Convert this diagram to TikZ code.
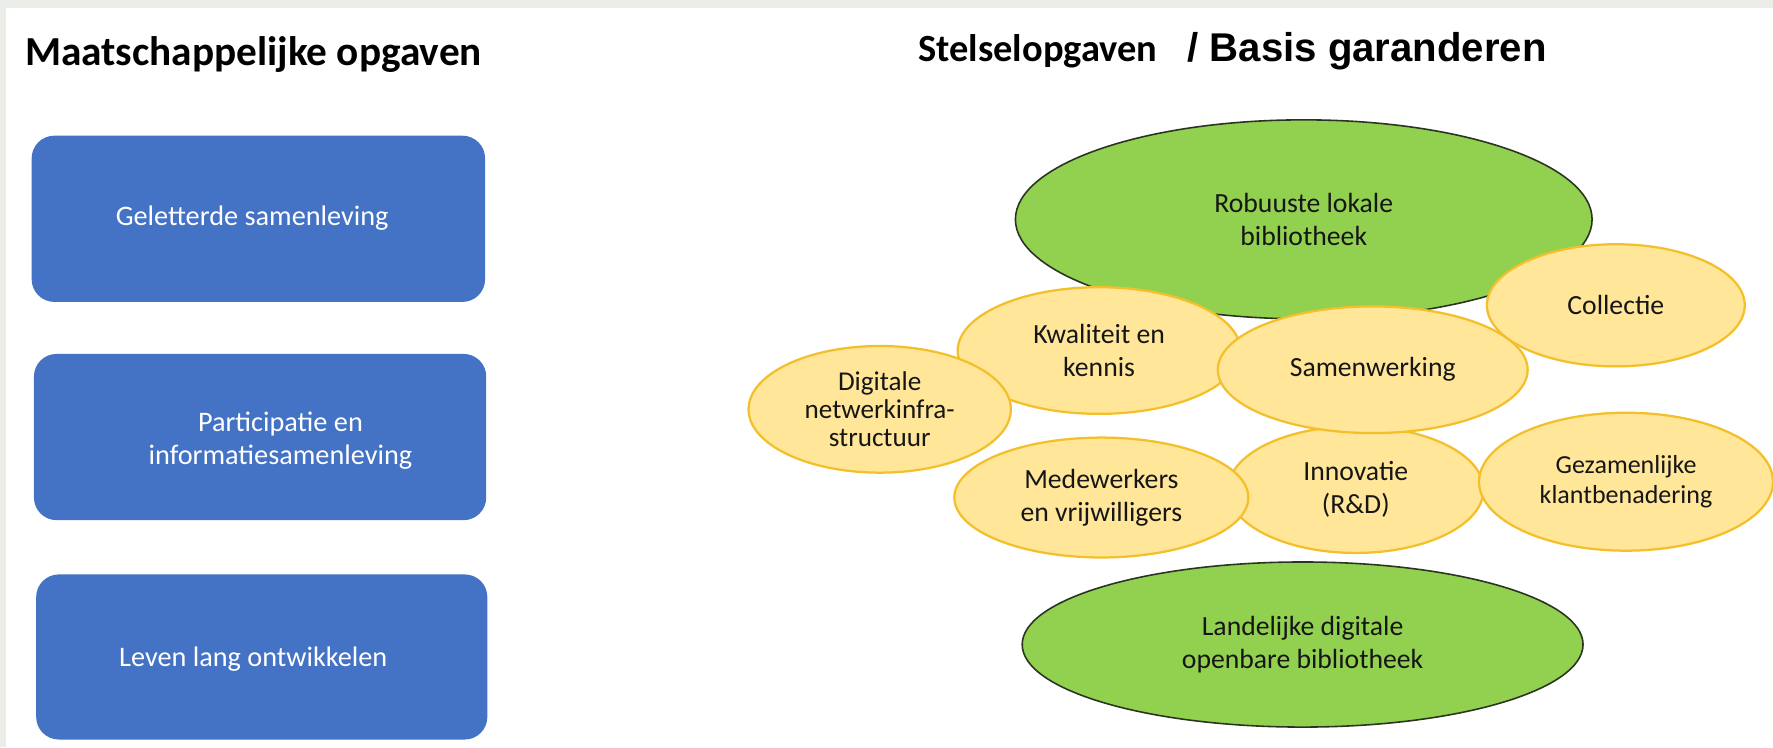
\documentclass[tikz,border=0pt]{standalone}
\usepackage{fontspec}
\setmainfont{Carlito}
\newfontfamily\arialfont{Liberation Sans}
\usetikzlibrary{shapes.geometric}
\definecolor{framegray}{HTML}{EBEDE8}
\definecolor{boxblue}{HTML}{4472C4}
\definecolor{ellgreen}{HTML}{92D050}
\definecolor{ellgreenline}{HTML}{2A3520}
\definecolor{ellyellow}{HTML}{FFE699}
\definecolor{ellyellowline}{HTML}{F3C02C}
\definecolor{txtdark}{HTML}{161616}
\tikzset{
  bluebox/.style={fill=boxblue, draw=none, rounded corners=20pt},
  boxtxt/.style={text=white, align=center, font=\fontsize{25}{29}\selectfont, inner sep=0pt},
  greenell/.style={ellipse, fill=ellgreen, draw=ellgreenline, line width=1.4pt, inner sep=0pt},
  yellowell/.style={ellipse, fill=ellyellow, draw=ellyellowline, line width=2pt, inner sep=0pt},
  elltxt/.style={text=txtdark, align=center, font=\fontsize{24.5}{29}\selectfont, inner sep=0pt},
  titletxt/.style={anchor=base west, inner sep=0pt, font=\bfseries\fontsize{36.5}{40}\selectfont}
}
\begin{document}
\begin{tikzpicture}[x=1pt, y=-1pt]
\useasboundingbox (0,0) rectangle (1568,661);
\fill[white] (0,0) rectangle (1568,661);
\fill[framegray] (0,0) rectangle (1568,7.5);
\fill[framegray] (0,0) rectangle (5,661);

% left column
\node[titletxt] (lt) at (22,58) {Maatschappelijke opgaven};
\draw[bluebox] (28,120) rectangle (429,267);
\coordinate (b1) at (223,193);
\node[boxtxt] (t1) at (b1) {Geletterde samenleving};
\draw[bluebox] (30,313) rectangle (430,460);
\node[boxtxt] (t2) at (248,390) {Participatie en\\informatiesamenleving};
\draw[bluebox] (32,508) rectangle (431,654);
\node[boxtxt] (t3) at (224,583) {Leven lang ontwikkelen};

% right column
\node[titletxt, font=\bfseries\fontsize{34}{40}\selectfont] (rt1) at (812,54) {Stelselopgaven};
\node[titletxt, font=\arialfont\bfseries\fontsize{35.5}{40}\selectfont] (rt2) at (1050,54) {/ Basis garanderen};

\node[greenell, minimum width=510pt, minimum height=176pt] (rob) at (1153,194) {};
\node[elltxt] at (rob) {Robuuste lokale\\bibliotheek};

\node[yellowell, minimum width=250pt, minimum height=112pt] (kwa) at (972,310) {};
\node[elltxt] at (kwa) {Kwaliteit en\\kennis};

\node[yellowell, minimum width=232pt, minimum height=112pt] (dig) at (778,362) {};
\node[elltxt, font=\fontsize{24}{24.5}\selectfont] at (dig) {Digitale\\netwerkinfra-\\structuur};

\node[yellowell, minimum width=226pt, minimum height=112pt] (inn) at (1199,433) {};
\node[elltxt] at (inn) {Innovatie\\(R\&D)};

\node[yellowell, minimum width=260pt, minimum height=106pt] (med) at (974,440) {};
\node[elltxt] at (med) {Medewerkers\\en vrijwilligers};

\node[yellowell, minimum width=274pt, minimum height=112pt] (sam) at (1214,327) {};
\node[elltxt] at (sam) {Samenwerking};

\node[yellowell, minimum width=228pt, minimum height=108pt] (col) at (1429,270) {};
\node[elltxt] at (col) {Collectie};

\node[yellowell, minimum width=260pt, minimum height=122pt] (gez) at (1438,426) {};
\node[elltxt, font=\fontsize{23}{27}\selectfont] at (gez) {Gezamenlijke\\klantbenadering};

\node[greenell, minimum width=496pt, minimum height=146pt] (lan) at (1152,570) {};
\node[elltxt] at (lan) {Landelijke digitale\\openbare bibliotheek};
\end{tikzpicture}
\end{document}
